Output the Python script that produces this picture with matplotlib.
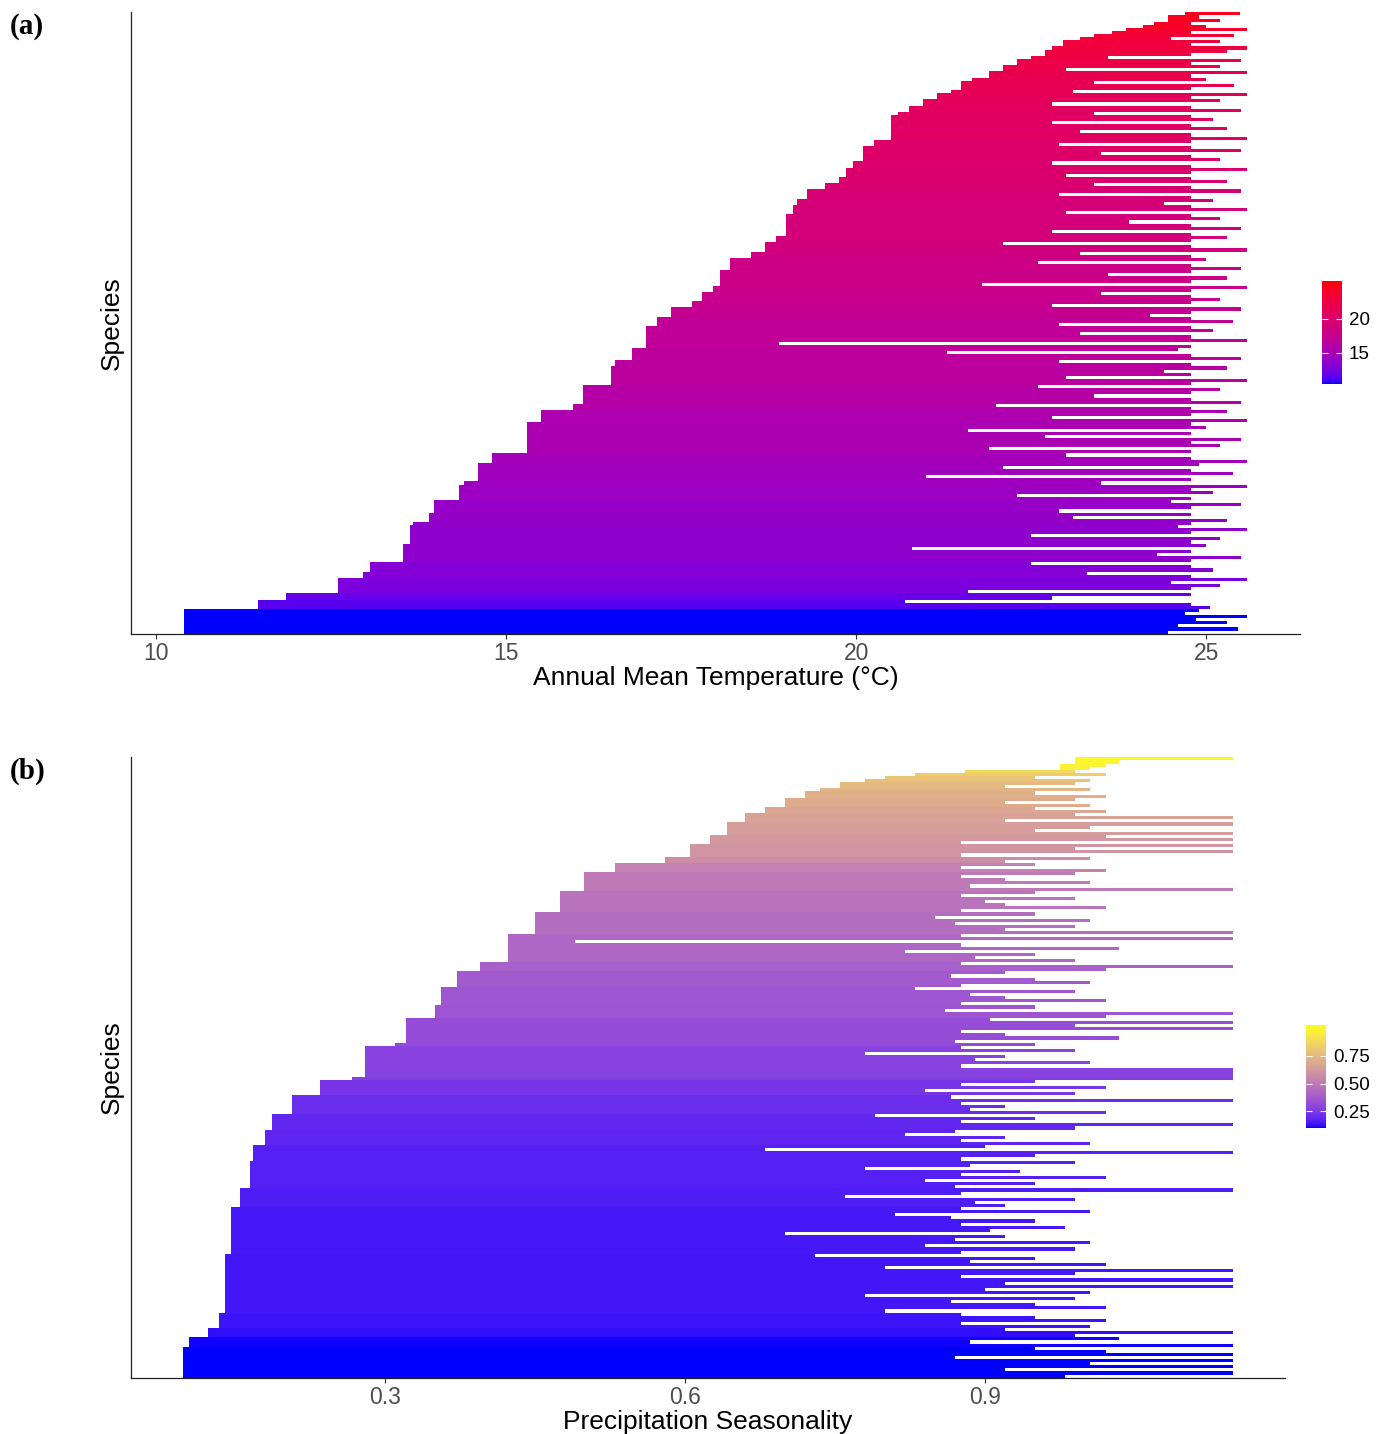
import numpy as np
import matplotlib

matplotlib.use("Agg")
import matplotlib.pyplot as plt
from matplotlib.colors import ListedColormap, Normalize, to_rgb

plt.rcParams["font.family"] = ["Liberation Sans", "DejaVu Sans"]

# (a) lowest annual mean temperature per species, bottom row first, as value / number of rows
temp_min_values = [10.40, 11.46, 11.85, 12.60, 12.95, 13.05, 13.53, 13.62, 13.67, 13.90,
                   13.97, 14.32, 14.40, 14.60, 14.80, 15.30, 15.50, 15.95, 16.10, 16.50,
                   16.56, 16.80, 17.00, 17.15, 17.35, 17.65, 17.80, 17.95, 18.05, 18.20,
                   18.50, 18.70, 18.85, 19.00, 19.10, 19.15, 19.30, 19.55, 19.75, 19.85,
                   19.95, 20.10, 20.25, 20.50, 20.60, 20.75, 20.95, 21.15, 21.35, 21.50,
                   21.65, 21.90, 22.10, 22.30, 22.50, 22.70, 22.80, 22.95, 23.20, 23.40,
                   23.65, 23.85, 24.10, 24.25, 24.45, 24.70]
temp_min_rows = [8, 3, 2, 5, 2, 3, 6, 6, 1, 3,
                 4, 5, 1, 6, 3, 10, 4, 2, 6, 6,
                 2, 4, 7, 3, 3, 2, 3, 2, 5, 4,
                 2, 3, 2, 7, 3, 2, 3, 2, 2, 3,
                 2, 5, 2, 8, 1, 2, 2, 2, 1, 3,
                 1, 2, 2, 2, 1, 2, 1, 2, 1, 1,
                 1, 1, 1, 1, 2, 1]
# highest annual mean temperature per species, bottom row first
temp_max = [
    24.45, 25.45, 24.6, 25.3, 24.85, 25.58, 24.7, 24.9, 25.05, 24.78,
    20.7, 22.8, 24.78, 21.6, 24.78, 25.2, 24.5, 25.58, 24.78, 23.3,
    25.1, 24.78, 22.5, 24.78, 25.49, 24.3, 24.78, 20.8, 25.0, 24.78,
    25.2, 22.5, 24.78, 25.58, 24.6, 24.78, 25.3, 23.1, 24.78, 22.9,
    24.78, 25.49, 24.5, 24.78, 22.3, 25.1, 24.78, 25.58, 23.5, 24.78,
    21.0, 25.38, 24.78, 22.1, 24.9, 25.58, 24.78, 23.0, 24.78, 21.9,
    25.2, 24.78, 25.49, 22.7, 24.78, 21.6, 25.0, 24.78, 25.58, 22.8,
    24.78, 25.3, 24.78, 22.0, 25.49, 24.78, 23.4, 24.78, 25.2, 22.6,
    24.78, 25.58, 23.0, 24.78, 24.4, 25.3, 24.78, 22.9, 25.49, 24.78,
    21.3, 24.6, 24.78, 18.9, 25.58, 24.78, 23.2, 25.1, 24.78, 22.9,
    25.38, 24.78, 24.2, 24.78, 25.49, 22.8, 24.78, 25.2, 24.78, 23.5,
    24.78, 25.58, 21.8, 24.78, 25.3, 23.6, 24.78, 25.49, 24.78, 22.6,
    25.0, 24.78, 23.2, 25.58, 24.78, 22.1, 24.78, 25.3, 24.78, 22.8,
    25.49, 24.78, 23.9, 25.2, 24.78, 23.0, 25.58, 24.78, 24.4, 25.1,
    24.78, 22.9, 25.49, 24.78, 23.4, 25.3, 24.78, 23.0, 24.78, 25.58,
    24.78, 22.8, 25.2, 24.78, 23.5, 25.49, 24.78, 22.9, 24.78, 25.58,
    24.78, 23.2, 25.3, 24.78, 22.8, 25.1, 24.78, 23.4, 25.49, 24.78,
    22.8, 25.2, 24.78, 25.58, 23.1, 24.78, 25.4, 23.4, 25.0, 24.78,
    25.58, 23.0, 25.2, 24.78, 25.49, 23.6, 24.78, 25.3, 25.58, 24.78,
    25.2, 24.5, 25.4, 24.78, 25.58, 25.0, 24.78, 25.2, 24.9, 25.48,
]

# (b) lowest precipitation seasonality per species, bottom row first
prec_min_values = [0.099, 0.105, 0.124, 0.135, 0.141, 0.146, 0.155, 0.165, 0.168, 0.180,
                   0.187, 0.207, 0.235, 0.267, 0.280, 0.310, 0.321, 0.350, 0.356, 0.372,
                   0.395, 0.423, 0.450, 0.475, 0.499, 0.530, 0.580, 0.605, 0.625, 0.642,
                   0.660, 0.680, 0.700, 0.720, 0.735, 0.755, 0.780, 0.800, 0.830, 0.880,
                   0.975, 0.990]
prec_min_rows = [10, 3, 3, 5, 19, 15, 6, 9, 5, 5,
                 5, 6, 5, 1, 10, 1, 8, 4, 6, 5,
                 3, 9, 7, 7, 6, 3, 2, 4, 3, 4,
                 3, 2, 3, 2, 1, 2, 1, 1, 1, 1,
                 2, 2]
prec_max = [
    0.98, 1.147, 0.92, 1.147, 1.005, 1.147, 0.87, 1.147, 1.021, 0.95,
    1.147, 0.885, 1.034, 0.99, 1.147, 0.92, 1.005, 0.876, 1.021, 0.95,
    0.876, 0.80, 1.021, 0.95, 0.866, 0.99, 0.78, 1.005, 0.90, 1.147,
    0.92, 1.147, 0.876, 0.99, 1.147, 0.80, 1.021, 0.885, 0.95, 0.73,
    0.876, 0.99, 0.84, 1.005, 0.87, 0.92, 0.70, 0.905, 0.98, 0.876,
    0.95, 0.866, 0.81, 1.005, 0.876, 0.92, 0.89, 0.99, 0.76, 0.876,
    1.147, 0.87, 0.95, 0.84, 1.021, 0.876, 0.935, 0.78, 0.885, 0.99,
    0.876, 0.95, 1.147, 0.68, 0.90, 1.005, 0.876, 0.92, 0.82, 0.87,
    0.99, 1.147, 0.876, 0.95, 0.79, 1.021, 0.885, 0.92, 0.876, 1.147,
    0.866, 0.99, 0.84, 1.021, 0.876, 0.95, 1.147, 1.147, 1.147, 1.147,
    0.876, 1.005, 0.89, 0.92, 0.78, 0.99, 0.876, 0.95, 0.87, 1.034,
    0.92, 0.876, 1.147, 0.99, 1.147, 0.905, 1.021, 1.147, 0.86, 0.95,
    0.876, 1.021, 0.92, 0.885, 0.99, 0.83, 0.876, 1.005, 0.95, 0.866,
    0.92, 1.021, 1.147, 0.876, 0.99, 0.89, 0.95, 0.82, 1.034, 0.876,
    0.49, 1.147, 0.876, 1.147, 0.92, 0.99, 0.87, 1.005, 0.85, 0.95,
    0.876, 1.021, 0.92, 0.90, 0.99, 0.876, 0.95, 1.147, 0.885, 1.005,
    0.92, 0.876, 0.99, 1.021, 0.876, 0.95, 0.92, 1.005, 0.876, 1.147,
    0.99, 1.147, 0.876, 1.147, 1.021, 1.147, 0.95, 1.005, 1.147, 0.92,
    1.147, 0.99, 1.021, 0.95, 1.005, 0.92, 0.99, 1.021, 0.95, 1.005,
    0.92, 0.99, 1.005, 0.95, 1.021, 0.99, 1.005, 1.021, 1.034, 1.147,
]

temp_breaks = [10, 15, 20, 25]
prec_breaks = [0.3, 0.6, 0.9]
temp_bar_breaks = [15, 20]
prec_bar_breaks = [0.25, 0.50, 0.75]
prec_bar_labels = ["0.25", "0.50", "0.75"]
temp_colour_limits = (10.4, 25.5)
prec_colour_limits = (0.099, 1.03)

W, H = 1387, 1434
RGB2XYZ = np.array([[0.4124564, 0.3575761, 0.1804375],
                    [0.2126729, 0.7151522, 0.0721750],
                    [0.0193339, 0.1191920, 0.9503041]])
WHITE = np.array([0.95047, 1.0, 1.08883])


def srgb_to_lab(rgb):
    rgb = np.asarray(rgb, float)
    lin = np.where(rgb <= 0.04045, rgb / 12.92, ((rgb + 0.055) / 1.055) ** 2.4)
    t = RGB2XYZ @ lin / WHITE
    d = 6 / 29
    f = np.where(t > d ** 3, np.cbrt(t), t / (3 * d * d) + 4 / 29)
    return np.array([116 * f[1] - 16, 500 * (f[0] - f[1]), 200 * (f[1] - f[2])])


def lab_to_srgb(lab):
    L, a, b = lab
    fy = (L + 16) / 116
    f = np.array([fy + a / 500, fy, fy - b / 200])
    d = 6 / 29
    t = np.where(f > d, f ** 3, 3 * d * d * (f - 4 / 29))
    lin = np.clip(np.linalg.solve(RGB2XYZ, t * WHITE), 0, 1)
    rgb = np.where(lin <= 0.0031308, 12.92 * lin, 1.055 * lin ** (1 / 2.4) - 0.055)
    return np.clip(rgb, 0, 1)


def lab_ramp(low, high, n=256):
    # same as ggplot's scale_colour_gradient: interpolate in CIELAB
    lo, hi = srgb_to_lab(to_rgb(low)), srgb_to_lab(to_rgb(high))
    return ListedColormap([lab_to_srgb(lo + (hi - lo) * s) for s in np.linspace(0, 1, n)])


def draw_panel(fig, box, mins, maxs, cmap, limits, breaks, xlabel, tag, tag_y,
               bar_box, bar_breaks, bar_labels):
    left, top, right, bottom = box
    ax = fig.add_axes([left / W, 1 - bottom / H, (right - left) / W, (bottom - top) / H])
    rows = np.arange(len(mins))
    norm = Normalize(*limits)
    ax.barh(rows, maxs - mins, left=mins, height=1.0, color=cmap(norm(mins)),
            linewidth=0, antialiased=False)
    lo, hi = mins.min(), maxs.max()
    pad = 0.05 * (hi - lo)
    ax.set_xlim(lo - pad, hi + pad)
    ax.set_ylim(-0.6, len(mins) - 0.4)
    for side in ("top", "right"):
        ax.spines[side].set_visible(False)
    for side in ("left", "bottom"):
        ax.spines[side].set_color("#222222")
        ax.spines[side].set_linewidth(0.9)
    ax.set_yticks([])
    ax.set_xticks(breaks)
    ax.set_xticklabels([f"{b:g}" for b in breaks])
    ax.tick_params(axis="x", length=3.5, width=0.8, color="#333333",
                   labelcolor="#4D4D4D", labelsize=16.5, pad=2)
    ax.set_xlabel(xlabel, fontsize=19, labelpad=1)
    ax.set_ylabel("Species", fontsize=19, labelpad=5)
    fig.text(10 / W, 1 - tag_y / H, tag, family=["Liberation Serif", "DejaVu Serif"],
             fontweight="bold", fontsize=21, va="center", ha="left")

    bl, bt, br, bb = bar_box
    cax = fig.add_axes([bl / W, 1 - bb / H, (br - bl) / W, (bb - bt) / H])
    grad = np.linspace(limits[0], limits[1], 256)[:, None]
    cax.imshow(grad, aspect="auto", cmap=cmap, norm=norm, origin="lower",
               extent=[0, 1, limits[0], limits[1]])
    cax.set_xlim(0, 1)
    cax.set_ylim(*limits)
    cax.set_xticks([])
    cax.set_yticks(bar_breaks)
    cax.set_yticklabels(bar_labels)
    cax.tick_params(axis="y", left=True, right=True, labelleft=False, labelright=True,
                    direction="in", length=4, width=0.8, color="white",
                    labelsize=13.5, pad=5)
    for s in cax.spines.values():
        s.set_visible(False)


fig = plt.figure(figsize=(W / 100, H / 100), dpi=100)

t_min = np.repeat(temp_min_values, temp_min_rows)
t_max = np.array(temp_max)
p_min = np.repeat(prec_min_values, prec_min_rows)
p_max = np.array(prec_max)

draw_panel(fig, (131, 12, 1300, 634), t_min, t_max, lab_ramp("blue", "red"),
           temp_colour_limits, temp_breaks, "Annual Mean Temperature (°C)", "(a)", 27,
           (1322, 281, 1342, 384), temp_bar_breaks, [str(b) for b in temp_bar_breaks])
draw_panel(fig, (131, 757, 1285, 1378), p_min, p_max, lab_ramp("blue", "yellow"),
           prec_colour_limits, prec_breaks, "Precipitation Seasonality", "(b)", 771,
           (1306, 1025, 1326, 1128), prec_bar_breaks, prec_bar_labels)

fig.savefig("out.png", dpi=100)
